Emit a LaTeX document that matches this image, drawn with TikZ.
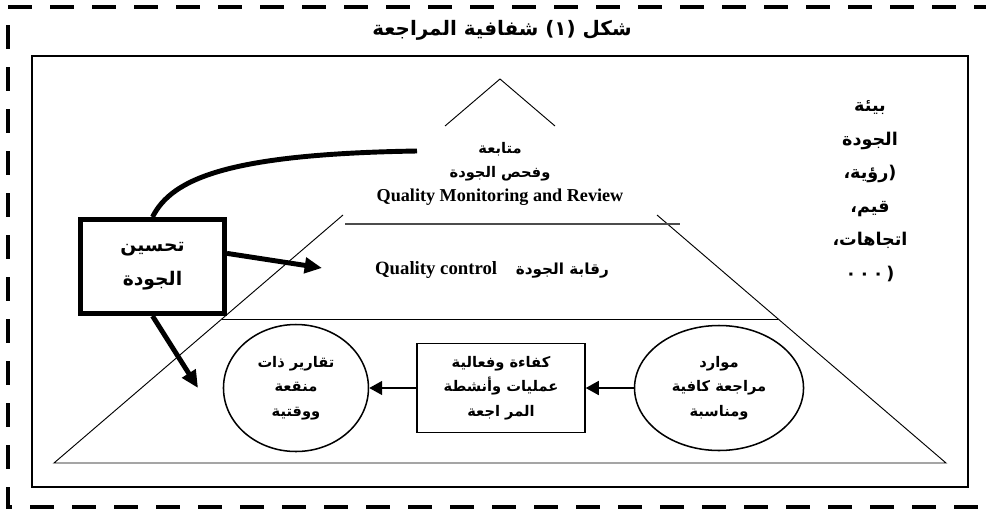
\documentclass[tikz,border=0pt]{standalone}
\usepackage{fontspec}
\setmainfont{Liberation Serif}
\newfontfamily\arabicfont[Script=Arabic]{DejaVu Sans}
\TeXXeTstate=1
\usetikzlibrary{arrows.meta,positioning,shapes.geometric}
\newcommand{\artext}[1]{{\arabicfont\bfseries\beginR #1\endR}}
% one piece of Arabic, set in its own box
\newcommand{\arw}[1]{\hbox{\arabicfont\bfseries #1}}

\begin{document}
\begin{tikzpicture}[x=0.3mm, y=-0.3mm,
 frame/.style={line width=4.2pt, dash pattern={on 7.2mm off 5.4mm}},
 pyr/.style={line width=0.8pt},
 sepline/.style={line width=0.9pt, black!70},
 arlabel/.style={font=\fontsize{12.5}{20.4}\selectfont, align=center, inner sep=0pt},
 thickline/.style={line width=4.2pt},
 thickarr/.style={-{Triangle[length=5.2mm,width=4.6mm]}, line width=4.2pt},
 arr/.style={-{Triangle[length=3.9mm,width=4.2mm]}, line width=1.3pt},
 improvebox/.style={draw, line width=4.2pt, minimum width=43.2mm, minimum height=28.2mm, align=center, font=\fontsize{16}{29}\selectfont},
 procbox/.style={draw, line width=1.3pt, minimum width=50.4mm, minimum height=26.7mm, align=center, font=\fontsize{12.5}{21}\selectfont},
 oval/.style={draw, ellipse, line width=1.3pt, align=center, font=\fontsize{12.5}{21}\selectfont, inner sep=0pt}]
\useasboundingbox (0,0) rectangle (986,513);
% outer dashed frame
\draw[frame] (8,7) -- (1010,7);
\draw[frame] (8,25) -- (8,507) -- (1010,507);
% inner box
\draw[line width=1.5pt] (32,56) rectangle (968,487);
\node[font=\fontsize{17}{20}\selectfont] (title) at (502,30) {\artext{شكل (١) شفافية المراجعة}};
% pyramid
\draw[pyr] (445,126) -- (500,79) -- (555,126);
\draw[pyr] (343,215) -- (54,463) -- (946,463) -- (657,215);
\draw[sepline] (345,224) -- (680,224);
\draw[pyr] (222,319) -- (778,319);
\node[arlabel] (monitor) at (500,174) {\artext{متابعة}\\\artext{وفحص الجودة}\\\fontsize{15.5}{20.4}\selectfont\textbf{Quality Monitoring and Review}};
\node[arlabel, font=\fontsize{16}{18}\selectfont] (control) at (492,270) {\textbf{Quality control}\quad{\fontsize{13}{16}\selectfont\artext{رقابة الجودة}}};
% environment text
\node[align=center, font=\fontsize{15}{28.6}\selectfont] (envtext) at (870,191) {\arw{بيئة}\\\arw{الجودة}\\\arw{،}\arw{رؤية}\arw{(}\\\arw{،}\arw{قيم}\\\arw{،}\arw{اتجاهات}\\\arw{٠}\,\arw{٠}\,\arw{٠}\,\arw{(}};
% bottom layer
\node[procbox] (process) at (501,388) {\artext{كفاءة وفعالية}\\\artext{عمليات وأنشطة}\\\artext{المر اجعة}};
\node[oval, minimum width=43.5mm, minimum height=38.1mm, left=14.1mm of process] (reports) {\artext{تقارير ذات}\\\artext{منقعة}\\\artext{ووقتية}};
\node[oval, minimum width=50.7mm, minimum height=37.5mm, right=14.4mm of process] (resources) {\artext{موارد}\\\artext{مراجعة كافية}\\\artext{ومناسبة}};
\draw[arr] (resources.west) -- (process.east);
\draw[arr] (process.west) -- (reports.east);
% quality improvement
\node[improvebox] (improve) at (152.5,266.5) {\artext{تحسين}\\\artext{الجودة}};
\coordinate (monend) at (417,151);
\coordinate (ctrltip) at (322,268);
\coordinate (reptip) at (198,388);
\draw[thickline] (monend) .. controls (230,154) and (172,178) .. (improve.north);
\draw[thickarr] (improve.10) -- (ctrltip);
\draw[thickarr] (improve.south) -- (reptip);
\end{tikzpicture}
\end{document}
